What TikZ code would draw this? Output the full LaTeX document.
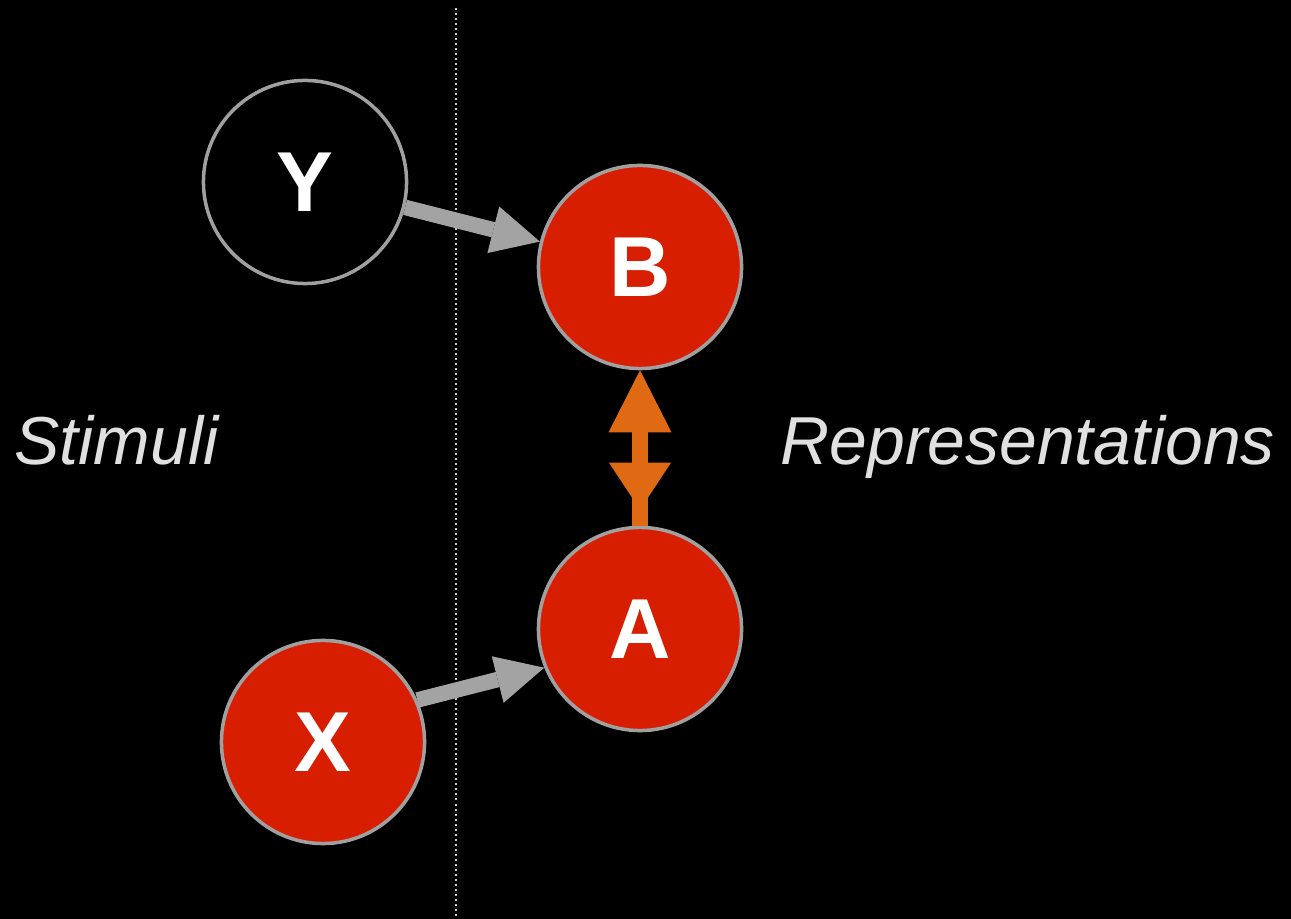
\documentclass[tikz,border=0pt]{standalone}
\usepackage{fontspec}
\setmainfont{Liberation Sans}
\usetikzlibrary{arrows.meta,calc}
\definecolor{nodered}{RGB}{215,30,0}
\definecolor{rimgray}{RGB}{160,160,160}
\definecolor{linkgray}{RGB}{163,163,163}
\definecolor{pairorange}{RGB}{224,106,20}
\definecolor{captiongray}{RGB}{224,224,224}
\definecolor{dotgray}{RGB}{200,200,200}
\tikzset{
  unit/.style={circle, draw=rimgray, line width=0.035cm, minimum size=2.03cm, inner sep=0pt,
    text=white, font=\bfseries\fontsize{24.2pt}{24.2pt}\selectfont},
  active/.style={unit, fill=nodered},
  idle/.style={unit, fill=black},
  link/.style={draw=linkgray, line width=0.155cm,
    -{Triangle[length=0.48cm, width=0.48cm, line width=0pt]}},
  pairlink/.style={draw=pairorange, line width=0.16cm,
    -{Triangle[length=0.62cm, width=0.63cm, line width=0pt]}},
  caption/.style={text=captiongray, inner sep=0pt,
    font=\itshape\fontsize{19.3pt}{19.3pt}\selectfont},
}
\begin{document}
\begin{tikzpicture}[x=0.01cm, y=-0.01cm]
  % canvas
  \fill[black] (0,0) rectangle (1291,919);
  \useasboundingbox (0,0) rectangle (1291,919);

  % divider between stimuli and representations
  \coordinate (divtop) at (456,8);
  \coordinate (divbot) at (456,919);
  \draw[dotgray, line width=0.015cm, dash pattern=on 0.02cm off 0.03cm] (divtop) -- (divbot);

  % units
  \node[idle]   (Y) at (305,182) {Y};
  \node[active] (B) at (640,267) {B};
  \node[active] (A) at (640,629) {A};
  \node[active] (X) at (323,742) {X};

  % stimulus-to-representation links
  \draw[link] (Y) -- (B);
  \draw[link] (X.24) -- (A.202);

  % association between the two representations
  \draw[pairlink] (A.north) -- (B.south);
  \fill[pairorange] ($(A.north)+(-31,-63)$) -- ($(A.north)+(31,-63)$) -- ($(A.north)+(0,-16)$) -- cycle;

  % side captions
  \node[caption, anchor=base west] (stim) at (14,465) {Stimuli};
  \node[caption, anchor=base west] (repr) at (780,465) {Representations};
\end{tikzpicture}
\end{document}
